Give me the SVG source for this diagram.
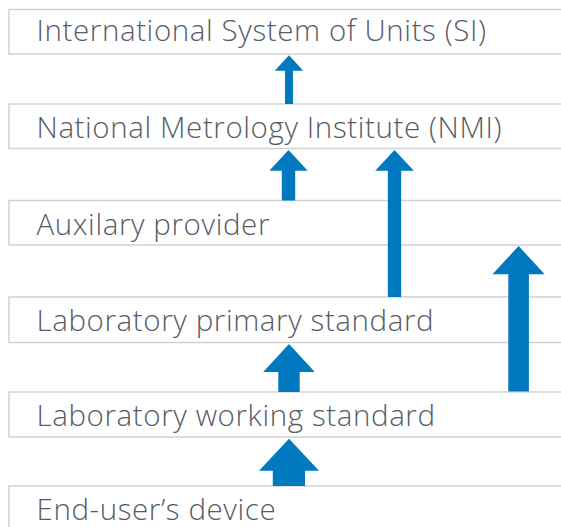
<svg xmlns="http://www.w3.org/2000/svg" width="561" height="527" viewBox="0 0 561 527">
  <style>
    .box { fill: #ffffff; stroke: #d2d2d2; stroke-width: 1.5; }
    .label { font-family: "Open Sans", "Lato", "Liberation Sans", sans-serif; font-weight: 300; font-size: 29.5px; letter-spacing: 0.6px; fill: #575c64; }
    .arrow { fill: #0079c1; }
  </style>
  <rect width="561" height="527" fill="#ffffff"/>

  <g id="si">
    <rect class="box" x="9" y="9.5" width="560" height="44.5"/>
    <text class="label" x="36.5" y="41">International System of Units (SI)</text>
  </g>
  <g id="nmi">
    <rect class="box" x="9" y="104" width="560" height="44.5"/>
    <text class="label" x="36.5" y="137.5">National Metrology Institute (NMI)</text>
  </g>
  <g id="auxiliary">
    <rect class="box" x="9" y="200.5" width="560" height="44.5"/>
    <text class="label" x="36.5" y="234.5">Auxilary provider</text>
  </g>
  <g id="lab-primary">
    <rect class="box" x="9" y="297" width="560" height="45.5"/>
    <text class="label" x="36.5" y="331">Laboratory primary standard</text>
  </g>
  <g id="lab-working">
    <rect class="box" x="9" y="392" width="560" height="45"/>
    <text class="label" x="36.5" y="426">Laboratory working standard</text>
  </g>
  <g id="end-user">
    <rect class="box" x="9" y="486" width="560" height="50"/>
    <text class="label" x="36.5" y="520">End-user’s device</text>
  </g>

  <g id="connectors">
    <!-- NMI to SI -->
    <polygon class="arrow" points="289,55.3 303.2,70.7 293,70.7 293,104 285,104 285,70.7 274.8,70.7"/>
    <!-- auxiliary provider to NMI -->
    <polygon class="arrow" points="288.5,150 307.7,170.7 295.2,170.7 295.2,200.5 281.8,200.5 281.8,170.7 269.3,170.7"/>
    <!-- laboratory primary standard to NMI -->
    <polygon class="arrow" points="394.5,150 413.8,170.7 401.2,170.7 401.2,297 387.8,297 387.8,170.7 375.2,170.7"/>
    <!-- laboratory working standard to auxiliary provider -->
    <polygon class="arrow" points="518.6,246 544.7,274.3 528.9,274.3 528.9,391.5 508.3,391.5 508.3,274.3 492.5,274.3"/>
    <!-- laboratory working standard to laboratory primary standard -->
    <polygon class="arrow" points="289,344 314.8,372 299.7,372 299.7,392 278.3,392 278.3,372 263.2,372"/>
    <!-- end-user's device to laboratory working standard -->
    <polygon class="arrow" points="289,438.7 319,470.7 305,470.7 305,486 272.8,486 272.8,470.7 259,470.7"/>
  </g>
</svg>
